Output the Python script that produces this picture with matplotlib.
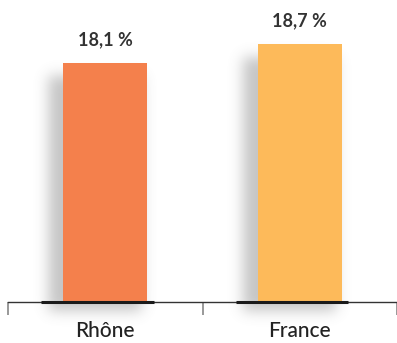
import numpy as np
import matplotlib
matplotlib.use('Agg')
import matplotlib.pyplot as plt

categories = ['Rhône', 'France']
values = [18.1, 18.7]
labels = ['18,1 %', '18,7 %']
colors = ['#F4804C', '#FDBA5A']

y_min, y_max = 10.55, 20.09
bar_w = 0.43


def blur(img, sigma):
    # separable gaussian blur, numpy only
    r = int(3 * sigma)
    k = np.exp(-0.5 * (np.arange(-r, r + 1) / sigma) ** 2)
    k /= k.sum()
    img = np.apply_along_axis(lambda m: np.convolve(m, k, mode='same'), 0, img)
    img = np.apply_along_axis(lambda m: np.convolve(m, k, mode='same'), 1, img)
    return img


fig = plt.figure(figsize=(3.97, 3.43), dpi=100)
ax = fig.add_axes([8 / 397, 41 / 343, 1 - 8 / 397, 302 / 343])

# soft drop shadow behind the bars, built on a pixel grid in data space
nx, ny = 400, 360
xs = np.linspace(-0.5, 1.485, nx)
ys = np.linspace(y_min - 1.5, y_max, ny)
X, Y = np.meshgrid(xs, ys)
mask = np.zeros_like(X)
for i, v in enumerate(values):
    inside = (X > i - bar_w / 2 - 0.08) & (X < i + bar_w / 2 - 0.03) & \
             (Y > y_min - 0.3) & (Y < v - 0.4)
    mask[inside] = 1.0
shadow = blur(mask, 7.0)
rgba = np.zeros((ny, nx, 4))
rgba[..., :3] = 0.5
rgba[..., 3] = np.clip(shadow * 0.45, 0, 1)
ax.imshow(rgba, extent=(xs[0], xs[-1], ys[0], ys[-1]), origin='lower',
          aspect='auto', zorder=1, interpolation='bilinear', clip_on=False)
ax.set_xlim(-0.5, 1.485)
ax.set_ylim(y_min, y_max)

x = np.arange(len(categories))
ax.bar(x, [v - y_min for v in values], bottom=y_min, width=bar_w,
       color=colors, zorder=3)

# darker base line under each bar
for i in x:
    ax.plot([i - 0.33, i + 0.25], [y_min, y_min], color='#1a1a1a', lw=2.2,
            solid_capstyle='butt', zorder=4, clip_on=False)

for i, (v, t) in enumerate(zip(values, labels)):
    ax.text(i, v + 0.72, t, ha='center', va='center', fontsize=13,
            fontfamily='Lato', fontweight='bold', color='#333333')

for s in ['top', 'right', 'left']:
    ax.spines[s].set_visible(False)
ax.spines['bottom'].set_color('#333333')
ax.spines['bottom'].set_linewidth(1.0)
ax.set_yticks([])
ax.set_xticks([-0.5, 0.5, 1.5], minor=True)
ax.set_xticks(x)
ax.set_xticklabels(categories, fontsize=15, fontfamily='Lato',
                   fontweight='medium', color='#222222')
ax.tick_params(axis='x', which='major', length=0, pad=14)
ax.tick_params(axis='x', which='minor', length=9, width=1.2, color='#888888')

fig.savefig('out.png', dpi=100)
